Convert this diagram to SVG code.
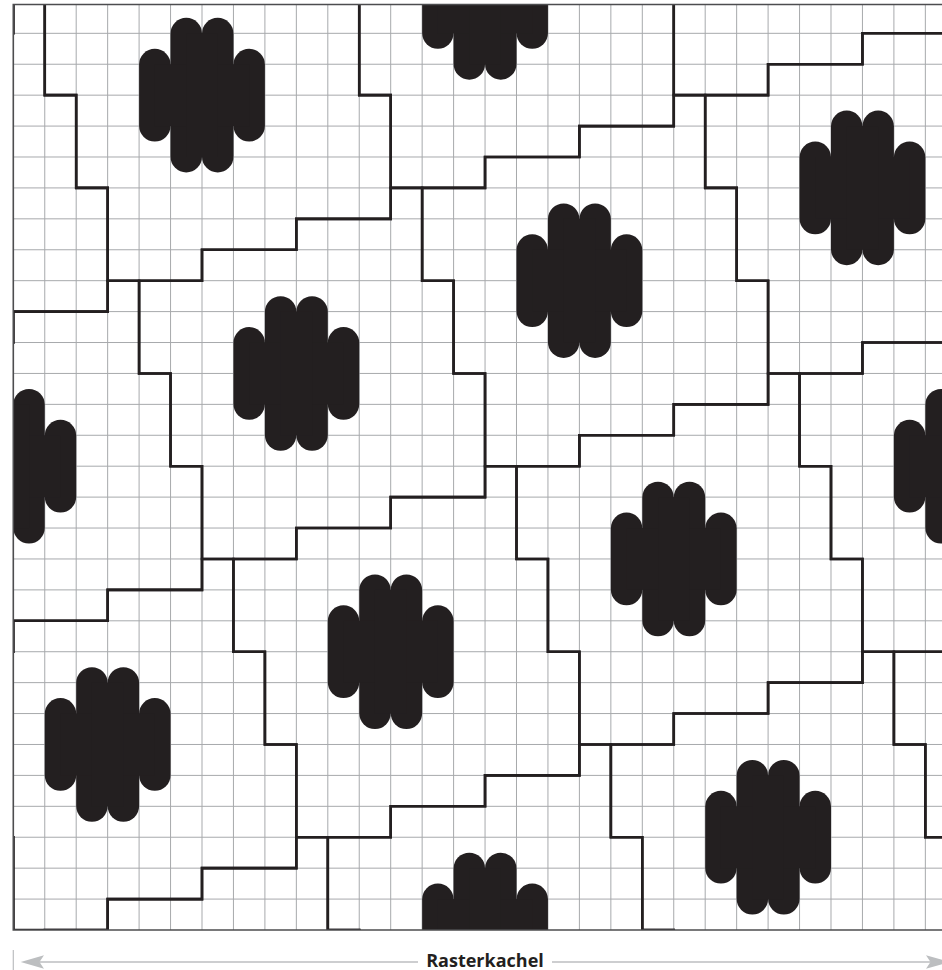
<svg xmlns="http://www.w3.org/2000/svg" width="942" height="970" viewBox="0 0 942 970">
  <defs>
    <style>
      .grid { fill: none; stroke: #a7a9ac; stroke-width: 1; }
      .tileline { fill: none; stroke: #231f20; stroke-width: 2.6; stroke-linejoin: miter; }
      .pill { fill: #231f20; }
      .border { fill: none; stroke: #4d4d4f; stroke-width: 1.6; }
      .dim { stroke: #bcbec0; fill: none; }
      .dimhead { fill: #bcbec0; stroke: none; }
      .label { font-family: 'Open Sans', 'Liberation Sans', sans-serif; font-weight: bold; font-size: 18px; fill: #231f20; }
    </style>
    <clipPath id="gridclip" clipPathUnits="userSpaceOnUse">
      <rect x="0" y="0.068" width="30" height="29.932"/>
    </clipPath>
    <polygon id="tile" class="tileline" vector-effect="non-scaling-stroke"
      points="-3,-4 0,-4 0,-5 3,-5 3,-6 4,-6 4,-3 5,-3 5,0 6,0 6,4 3,4 3,5 0,5 0,6 -3,6 -3,3 -4,3 -4,0 -5,0 -5,-3 -3,-3"/>
    <g id="blob">
      <rect class="pill" x="-2" y="-1.5" width="1" height="3" rx="0.5" ry="0.5086"/>
      <rect class="pill" x="-1" y="-2.5" width="1" height="5" rx="0.5" ry="0.5086"/>
      <rect class="pill" x="0" y="-2.5" width="1" height="5" rx="0.5" ry="0.5086"/>
      <rect class="pill" x="1" y="-1.5" width="1" height="3" rx="0.5" ry="0.5086"/>
      <rect class="pill" x="-1.5" y="-1" width="3" height="2"/>
      <rect class="pill" x="-0.5" y="-2" width="1" height="4"/>
    </g>
  </defs>

  <rect x="0" y="0" width="942" height="970" fill="#ffffff"/>

  <g transform="translate(13.3,2.4) scale(31.45,30.92)">
    <g clip-path="url(#gridclip)">
      <path id="grid" class="grid" vector-effect="non-scaling-stroke"
        d="M1,0V30M2,0V30M3,0V30M4,0V30M5,0V30M6,0V30M7,0V30M8,0V30M9,0V30M10,0V30M11,0V30M12,0V30M13,0V30M14,0V30M15,0V30M16,0V30M17,0V30M18,0V30M19,0V30M20,0V30M21,0V30M22,0V30M23,0V30M24,0V30M25,0V30M26,0V30M27,0V30M28,0V30M29,0V30
           M0,1H30M0,2H30M0,3H30M0,4H30M0,5H30M0,6H30M0,7H30M0,8H30M0,9H30M0,10H30M0,11H30M0,12H30M0,13H30M0,14H30M0,15H30M0,16H30M0,17H30M0,18H30M0,19H30M0,20H30M0,21H30M0,22H30M0,23H30M0,24H30M0,25H30M0,26H30M0,27H30M0,28H30M0,29H30"/>

      <g id="blobs">
        <use href="#blob" x="15" y="0"/>
        <use href="#blob" x="6" y="3"/>
        <use href="#blob" x="27" y="6"/>
        <use href="#blob" x="18" y="9"/>
        <use href="#blob" x="9" y="12"/>
        <use href="#blob" x="0" y="15"/>
        <use href="#blob" x="30" y="15"/>
        <use href="#blob" x="21" y="18"/>
        <use href="#blob" x="12" y="21"/>
        <use href="#blob" x="3" y="24"/>
        <use href="#blob" x="24" y="27"/>
        <use href="#blob" x="15" y="30"/>
      </g>

      <g id="tiles">
        <use href="#tile" x="-6" y="-3"/>
        <use href="#tile" x="3" y="-6"/>
        <use href="#tile" x="-3" y="6"/>
        <use href="#tile" x="6" y="3"/>
        <use href="#tile" x="15" y="0"/>
        <use href="#tile" x="24" y="-3"/>
        <use href="#tile" x="0" y="15"/>
        <use href="#tile" x="9" y="12"/>
        <use href="#tile" x="18" y="9"/>
        <use href="#tile" x="27" y="6"/>
        <use href="#tile" x="-6" y="27"/>
        <use href="#tile" x="3" y="24"/>
        <use href="#tile" x="12" y="21"/>
        <use href="#tile" x="21" y="18"/>
        <use href="#tile" x="30" y="15"/>
        <use href="#tile" x="6" y="33"/>
        <use href="#tile" x="15" y="30"/>
        <use href="#tile" x="24" y="27"/>
        <use href="#tile" x="33" y="24"/>
      </g>
    </g>
  </g>

  <path id="frame" class="border" d="M942,4.5H13.3V930H942"/>

  <g id="dimension">
    <line class="dim" x1="13.3" y1="950" x2="13.3" y2="970" stroke-width="1.2"/>
    <line class="dim" x1="38" y1="962" x2="418" y2="962" stroke-width="1.6"/>
    <line class="dim" x1="552" y1="962" x2="934" y2="962" stroke-width="1.6"/>
    <path class="dimhead" d="M20.7,962 L44,955.2 L39.5,962 L44,968.8 Z"/>
    <path class="dimhead" d="M949.4,962 L926,955.2 L930.5,962 L926,968.8 Z"/>
    <text class="label" x="485" y="966.5" text-anchor="middle">Rasterkachel</text>
  </g>
</svg>
